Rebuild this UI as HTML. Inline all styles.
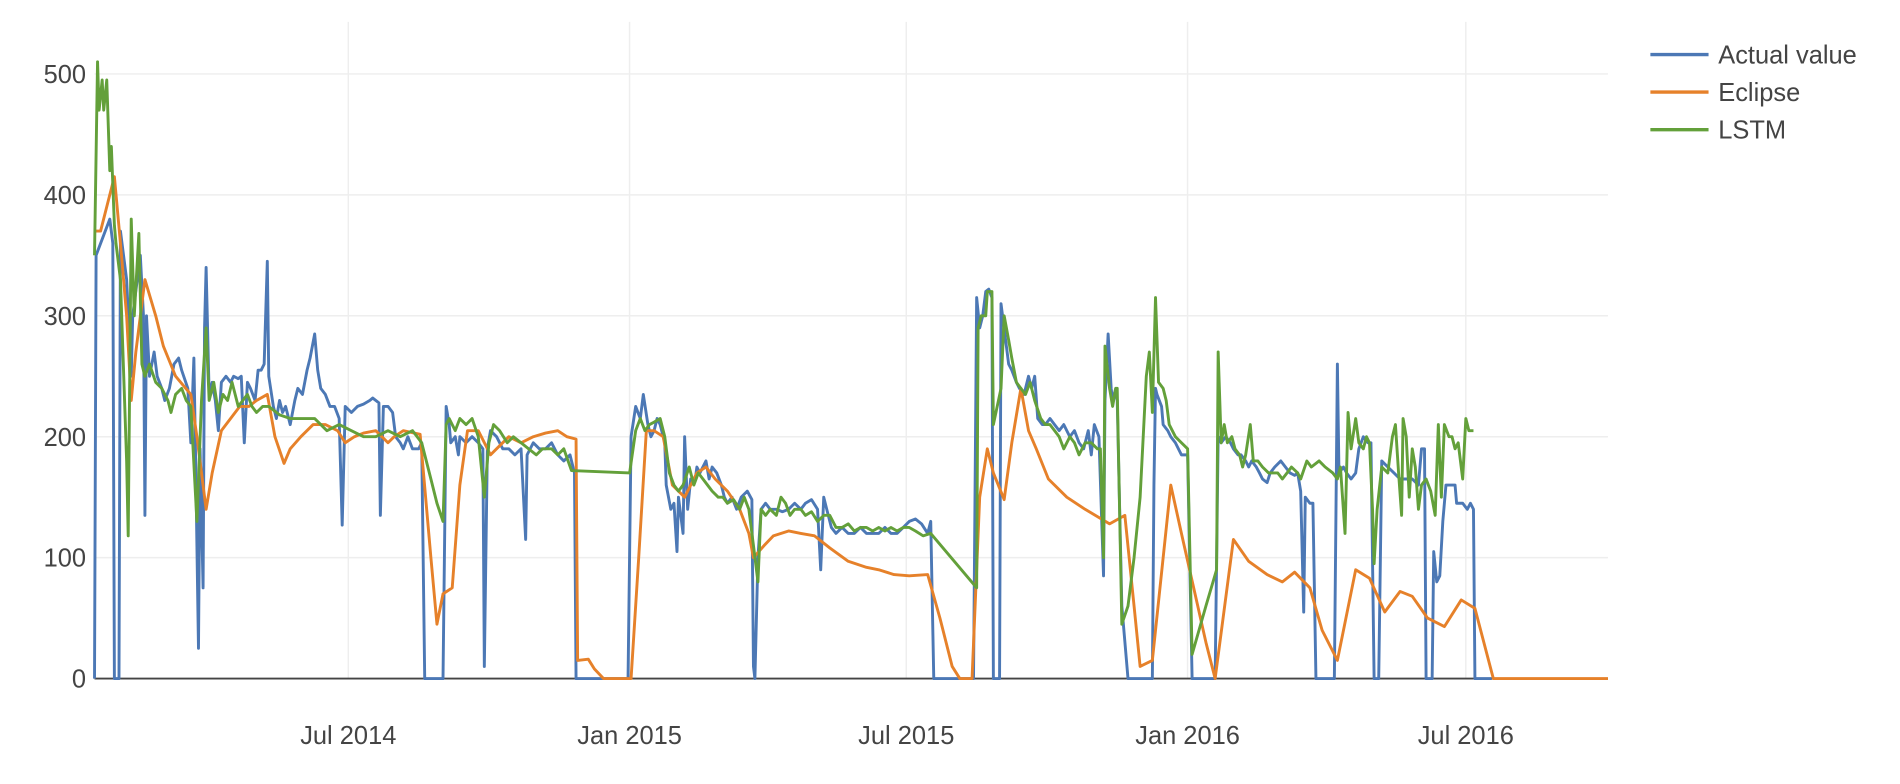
<!DOCTYPE html>
<html><head><meta charset="utf-8"><style>
html,body{margin:0;padding:0;background:#fff;width:1900px;height:784px;overflow:hidden}
svg text{font-family:"Liberation Sans",sans-serif;fill:#444}
</style></head><body>
<svg id="chart" width="1900" height="784" viewBox="0 0 1568 647" xmlns="http://www.w3.org/2000/svg">
<g id="grid"></g>
<g id="axes"></g>
<g id="series"></g>
<g id="legend"></g>
</svg>
<script>
// x values are days since 2014-01-16
const yTicks = [0, 100, 200, 300, 400, 500];
const xTickDays = [166, 350, 531, 715, 897];
const xTickLabels = ["Jul 2014", "Jan 2015", "Jul 2015", "Jan 2016", "Jul 2016"];
const seriesNames = ["Actual value", "Eclipse", "LSTM"];
const seriesColors = ["#4c78b5", "#e6812a", "#63a03a"];

const actualDays = [0,1,10,12,13,16,17,21,24,25,28,30,32,33,34,36,39,41,44,46,49,52,55,57,61,63,65,66,68,69,71,72,73,75,77,79,81,83,86,89,91,94,96,98,100,102,105,107,109,111,113,114,117,119,121,123,125,128,131,133,136,139,141,144,146,148,151,154,157,160,162,164,168,172,176,180,182,186,187,189,192,195,197,200,202,205,208,212,214,216,228,230,232,233,236,238,239,243,247,251,254,255,257,259,263,267,271,275,279,282,283,287,291,295,299,303,307,311,314,315,349,351,354,357,359,362,364,366,368,370,373,374,377,379,381,382,385,386,388,390,393,394,396,400,402,404,407,410,412,414,417,420,423,427,430,431,432,434,436,439,442,446,450,454,458,462,465,469,473,475,477,479,482,485,489,493,497,501,505,509,513,517,521,525,529,533,537,541,545,547,549,575,577,579,581,583,585,587,588,592,593,596,598,600,603,605,608,611,613,615,617,620,622,625,628,631,634,638,641,644,647,650,652,654,657,660,661,663,665,666,668,669,672,676,692,693,694,695,698,699,702,704,707,711,715,718,733,735,737,740,743,745,748,750,753,755,757,760,762,764,767,769,772,776,779,782,785,787,789,791,792,795,797,799,811,813,814,817,819,822,825,827,830,833,835,837,840,842,846,850,854,858,862,866,868,870,871,875,876,878,880,882,884,887,890,891,895,898,900,902,903,914];
const actualValues = [0,350,380,360,0,0,370,330,250,300,330,350,300,135,300,250,270,250,240,230,240,260,265,255,240,195,265,190,25,190,75,290,340,235,245,230,205,245,250,245,250,248,250,195,245,240,230,255,255,260,345,250,225,215,230,220,225,210,230,240,235,255,265,285,255,240,235,225,225,215,127,225,220,225,227,230,232,228,135,225,225,220,200,195,190,200,190,190,195,0,0,225,210,195,200,185,200,195,200,195,190,10,190,205,200,190,190,185,190,115,185,195,190,190,195,185,180,185,170,0,0,200,225,215,235,210,200,205,215,210,195,160,140,145,105,150,120,200,140,165,165,175,170,180,165,175,170,160,150,145,150,140,150,155,148,10,0,100,140,145,140,140,138,140,145,140,145,148,140,90,150,140,125,120,125,120,120,125,120,120,120,125,120,120,125,130,132,128,120,130,0,0,315,290,300,320,322,315,0,0,310,280,260,255,245,240,235,250,240,250,215,210,210,215,210,205,210,200,205,195,190,205,185,210,200,85,230,285,240,230,240,230,60,0,0,160,240,235,225,210,205,200,195,185,185,0,0,200,195,200,195,190,185,185,180,175,180,175,170,165,162,170,175,180,175,170,168,170,155,55,150,145,145,0,0,260,170,175,170,165,170,190,200,195,195,0,0,180,175,170,165,165,165,160,190,190,0,0,105,80,85,130,160,160,160,145,145,140,145,140,0,0];

const eclipseDays = [0,4,13,17,21,24,27,33,40,45,53,63,67,73,77,83,89,95,101,106,113,118,124,128,135,143,151,159,164,170,176,184,192,196,202,213,220,224,228,234,239,244,251,259,263,271,279,287,295,303,309,315,316,323,327,333,351,356,361,366,372,378,386,394,400,406,414,422,428,431,438,444,454,462,471,481,493,505,513,523,533,545,553,561,566,574,579,584,588,595,600,606,611,616,624,636,648,664,674,680,684,692,704,711,719,727,733,745,755,767,777,785,795,803,813,825,834,844,854,862,872,883,894,903,915,990];
const eclipseValues = [370,370,415,360,300,230,270,330,300,275,250,235,200,140,170,205,215,225,225,230,235,200,178,190,200,210,210,205,195,200,203,205,195,200,205,202,100,45,70,75,160,205,205,185,190,200,195,200,203,205,200,198,15,16,8,0,0,100,205,205,200,160,150,170,175,165,155,140,120,100,110,118,122,120,118,108,97,92,90,86,85,86,50,10,0,0,150,190,170,148,195,240,205,190,165,150,140,128,135,60,10,15,160,120,75,30,0,115,97,86,80,88,75,40,15,90,83,55,72,68,50,43,65,58,0,0];

const lstmDays = [0,2,3,5,6,8,10,11,13,14,17,21,22,24,26,29,31,33,36,40,44,48,50,53,57,60,63,67,70,73,75,78,81,84,87,90,94,97,100,103,106,110,114,121,128,136,144,152,160,168,176,184,192,200,208,214,220,224,228,230,232,234,236,239,243,247,251,255,258,261,265,270,274,279,284,289,293,299,303,307,312,350,354,357,360,363,366,370,373,376,379,382,385,389,392,395,398,401,404,408,411,414,418,422,425,428,431,434,436,439,442,446,449,452,455,458,462,465,469,473,477,481,485,489,493,497,501,505,509,513,517,521,525,529,533,537,542,547,577,578,580,583,584,587,588,593,595,598,600,603,606,609,612,615,619,622,625,628,631,634,638,641,644,648,652,656,658,660,661,664,666,668,669,672,676,680,684,688,690,692,694,696,699,701,703,707,711,715,718,727,734,735,737,739,741,744,746,749,751,753,756,758,761,764,768,771,774,777,780,783,787,789,793,796,801,805,810,813,815,818,820,822,825,827,830,832,834,836,837,839,842,846,849,851,853,855,856,858,860,862,864,866,868,871,874,877,879,881,883,886,888,890,892,895,897,899,902];
const lstmValues = [350,510,470,495,470,495,420,440,375,360,330,180,118,380,300,368,260,250,260,245,240,230,220,235,240,230,225,130,230,290,230,245,220,235,230,245,225,230,235,225,220,225,225,218,215,215,215,205,210,205,200,200,205,200,205,195,165,145,130,210,215,210,205,215,210,215,200,150,195,210,205,195,200,195,190,185,190,190,185,190,172,170,205,215,205,210,212,215,200,170,160,155,160,175,160,170,165,160,155,150,150,145,148,140,150,140,110,80,140,135,140,135,150,145,135,140,140,135,138,130,135,135,125,125,128,122,125,125,122,125,122,125,122,125,125,122,118,120,75,290,300,300,320,320,210,240,300,280,265,245,240,235,245,230,215,210,210,205,200,190,200,195,185,195,195,190,190,100,275,240,225,240,240,45,60,100,150,250,270,220,315,245,240,230,210,200,195,190,20,60,90,270,195,210,195,200,190,185,175,185,210,180,180,175,170,170,170,165,170,175,170,165,180,175,180,175,170,165,175,120,220,190,215,195,190,200,195,140,95,140,175,170,200,210,170,135,215,200,150,190,175,140,160,165,155,135,210,150,210,200,200,190,195,165,215,205,205];

const X0 = 78, X1 = 1327, DAYMAX = 990, Y0 = 560, PER = 0.998, TOP = 18;
function xScale(d){ return X0 + d * (X1 - X0) / DAYMAX; }
function yScale(v){ return Y0 - v * PER; }
const NS = "http://www.w3.org/2000/svg";
function mk(tag, attrs, parent){ const e = document.createElementNS(NS, tag); for (const k in attrs) e.setAttribute(k, attrs[k]); parent.appendChild(e); return e; }

const grid = document.getElementById('grid');
const axes = document.getElementById('axes');
yTicks.forEach((t, i) => {
  if (t !== 0) {
    const l = mk('line', {x1: X0, x2: X1, y1: yScale(t), y2: yScale(t), stroke: '#eeeeee', 'stroke-width': 1.2}, grid);
    
    
  }
  const tx = mk('text', {x: 71, y: yScale(t) + 7.5, 'text-anchor': 'end', 'font-size': 21}, axes);
  tx.textContent = t;
  
  
});
xTickDays.forEach((d, i) => {
  const l = mk('line', {x1: xScale(d), x2: xScale(d), y1: TOP, y2: Y0, stroke: '#eeeeee', 'stroke-width': 1.2}, grid);
  
  
  const tx = mk('text', {x: xScale(d), y: 614, 'text-anchor': 'middle', 'font-size': 21}, axes);
  tx.textContent = xTickLabels[i];
  
  
});

const series = document.getElementById('series');
const allDays = [actualDays, eclipseDays, lstmDays];
const allVals = [actualValues, eclipseValues, lstmValues];
const seriesKeys = ['actual-value-line', 'eclipse-line', 'lstm-line'];
[0, 1, 2].forEach(s => {
  const pts = allDays[s].map((d, i) => xScale(d).toFixed(1) + ',' + yScale(allVals[s][i]).toFixed(1)).join(' ');
  const pl = mk('polyline', {points: pts, fill: 'none', stroke: seriesColors[s], 'stroke-width': 2.4, 'stroke-linejoin': 'round'}, series);
  
  
});
const zl = mk('line', {x1: X0, x2: X1, y1: Y0, y2: Y0, stroke: '#444', 'stroke-width': 1.5}, axes);



const legend = document.getElementById('legend');
seriesNames.forEach((n, i) => {
  const g = mk('g', {}, legend);
  
  
  const y = 45 + i * 31;
  mk('line', {x1: 1362, x2: 1410, y1: y, y2: y, stroke: seriesColors[i], 'stroke-width': 2.8}, g);
  const t = mk('text', {x: 1418, y: y + 7.5, 'font-size': 21}, g);
  t.textContent = n;
});
</script>
</body></html>
